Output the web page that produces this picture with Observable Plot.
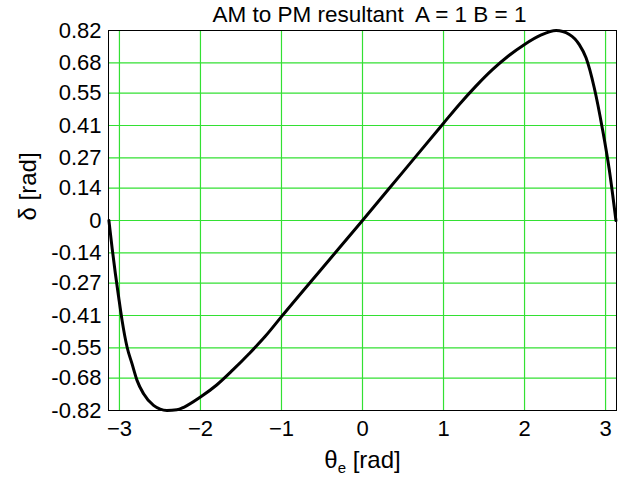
<!DOCTYPE html>
<html><head><meta charset="utf-8">
<script src="https://cdn.jsdelivr.net/npm/d3@7"></script>
<script src="https://cdn.jsdelivr.net/npm/@observablehq/plot@0.6"></script>
<style>body{margin:0;background:#fff;}</style>
</head><body><div id="chart"></div>
<script>
// Curve readings (theta_e in rad, delta in rad)
const theta = [-3.13, -3.09, -3.05, -3.01, -2.968, -2.906, -2.845, -2.783, -2.702, -2.579, -2.414, -2.291, -2.2, -2.0, -1.8, -1.6, -1.4, -1.2, -1.0, -0.5, 0, 0.5, 1.0, 1.2, 1.4, 1.6, 1.8, 2.0, 2.2, 2.389, 2.553, 2.676, 2.759, 2.861, 2.963, 3.046, 3.128];
const delta = [0, -0.12, -0.23, -0.33, -0.43, -0.546, -0.618, -0.69, -0.748, -0.798, -0.82, -0.817, -0.805, -0.762, -0.71, -0.645, -0.575, -0.5, -0.415, -0.207, 0, 0.21, 0.42, 0.503, 0.58, 0.65, 0.71, 0.76, 0.8, 0.82, 0.803, 0.759, 0.702, 0.572, 0.392, 0.219, 0];

const xTicks = [-3, -2, -1, 0, 1, 2, 3];
const yTicks = [-0.82, -0.68, -0.55, -0.41, -0.27, -0.14, 0, 0.14, 0.27, 0.41, 0.55, 0.68, 0.82];
const yTickLabels = ["-0.82", "-0.68", "-0.55", "-0.41", "-0.27", "-0.14", "0", "0.14", "0.27", "0.41", "0.55", "0.68", "0.82"];
const titleText = "AM to PM resultant  A = 1 B = 1";
const xLabelMain = "θ";
const xLabelSub = "e";
const xLabelUnit = " [rad]";
const yLabelText = "δ [rad]";

const data = theta.map((t, i) => ({t, d: delta[i]}));
const font = "'Liberation Sans', Arial, sans-serif";
const gridColor = "#33e033";

const chart = Plot.plot({
  width: 621,
  height: 477,
  marginLeft: 108,
  marginRight: 5,
  marginTop: 30,
  marginBottom: 67,
  x: {domain: [-3.135, 3.135]},
  y: {domain: [-0.82, 0.82]},
  style: {fontFamily: font, fontSize: "22px", background: "#fff", color: "#000", overflow: "visible"},
  marks: [
    Plot.gridX(xTicks, {stroke: gridColor, strokeOpacity: 1, strokeWidth: 1.2}),
    Plot.gridY(yTicks, {stroke: gridColor, strokeOpacity: 1, strokeWidth: 1.2}),
    Plot.frame({stroke: "#000", strokeWidth: 1}),
    Plot.axisX(xTicks, {tickSize: 0, tickPadding: 10, fontSize: 22, label: null, fill: "#000"}),
    Plot.axisY(yTicks, {tickSize: 0, tickPadding: 7, fontSize: 22, label: null, fill: "#000",
      tickFormat: d => yTickLabels[yTicks.indexOf(d)]}),
    Plot.line(data, {x: "t", y: "d", stroke: "#000", strokeWidth: 3, curve: "monotone-x"}),
    Plot.text([titleText], {frameAnchor: "top", dx: 7, dy: -16, fontSize: 22.5, fill: "#000", lineAnchor: "middle"}),
    Plot.text([xLabelMain], {frameAnchor: "bottom", dy: 50, fontSize: 24, fill: "#000", lineAnchor: "middle", className: "xlabel"}),
    Plot.text([yLabelText], {frameAnchor: "left", dx: -80, rotate: -90, fontSize: 24, fill: "#000", lineAnchor: "middle"})
  ]
});

// compose the subscripted x-axis label as real text with tspans
d3.select(chart).selectAll(".xlabel text").each(function() {
  const t = d3.select(this);
  t.text("");
  t.append("tspan").text(xLabelMain);
  t.append("tspan").attr("font-size", 15).attr("dy", "0.35em").text(xLabelSub);
  t.append("tspan").attr("dy", "-0.22em").text(xLabelUnit);
});

document.getElementById("chart").appendChild(chart);
</script>
</body></html>
